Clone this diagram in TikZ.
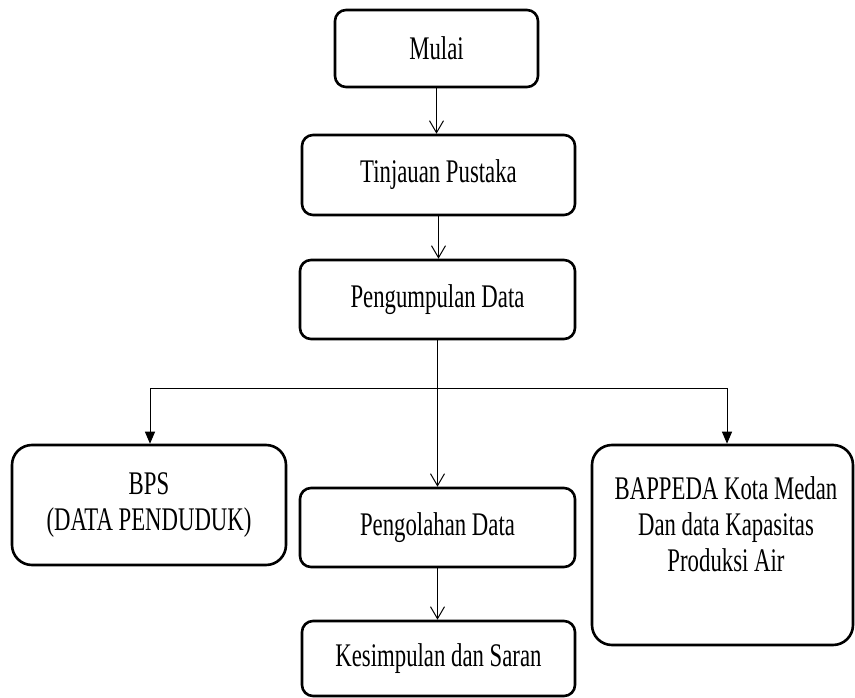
\documentclass[tikz,border=0pt]{standalone}
\usepackage{fontspec}
\setmainfont{Liberation Serif}[FakeStretch=0.69]
\usetikzlibrary{arrows.meta}
\begin{document}
\begin{tikzpicture}[x=1pt,y=-1pt,
  box/.style={draw, line width=2.6pt, rounded corners=11pt, inner sep=0pt, align=center,
    font=\fontsize{33}{36}\selectfont},
  bigbox/.style={box, rounded corners=20pt},
  openarrow/.style={line width=1pt, -{Straight Barb[length=12pt,width=14pt,line width=1pt]}},
  fillarrow/.style={line width=1pt, -{Triangle[length=12pt,width=10pt]}},
  conn/.style={line width=1pt}]
\useasboundingbox (0,0) rectangle (855,698);

\node[box, minimum width=203pt, minimum height=77pt] (mulai) at (436.5,48.5) {Mulai};
\node[box, minimum width=273pt, minimum height=80pt] (tinjauan) at (438.5,175) {Tinjauan Pustaka};
\node[box, minimum width=275pt, minimum height=79pt] (kumpul) at (437.5,299.5) {Pengumpulan Data};
\node[box, minimum width=275pt, minimum height=79pt] (olah) at (437.5,527.5) {Pengolahan Data};
\node[box, minimum width=273pt, minimum height=75pt] (simpul) at (438.5,658.5) {Kesimpulan dan Saran};
\node[bigbox, minimum width=274pt, minimum height=120pt] (bps) at (149,505) {BPS\\(DATA PENDUDUK)};
\node[bigbox, minimum width=261pt, minimum height=200pt] (bappeda) at (722.5,545) {};
\node[align=center, inner sep=0pt, font=\fontsize{33}{36}\selectfont] (bappedatext) at (726,524)
  {BAPPEDA Kota Medan\\Dan data Kapasitas\\Produksi Air};

\coordinate (jl) at (150,388);
\coordinate (jr) at (727,388);
\coordinate (jm) at (437.5,388);

\draw[openarrow] (mulai.south) -- (mulai.south |- tinjauan.north);
\draw[openarrow] (tinjauan.south) -- (tinjauan.south |- kumpul.north);
\draw[openarrow] (kumpul.south) -- (kumpul.south |- olah.north);
\draw[openarrow] (olah.south) -- (olah.south |- simpul.north);
\draw[conn] (jl) -- (jr);
\draw[fillarrow] (jl) -- (jl |- bps.north);
\draw[fillarrow] (jr) -- (jr |- bappeda.north);
\end{tikzpicture}
\end{document}
